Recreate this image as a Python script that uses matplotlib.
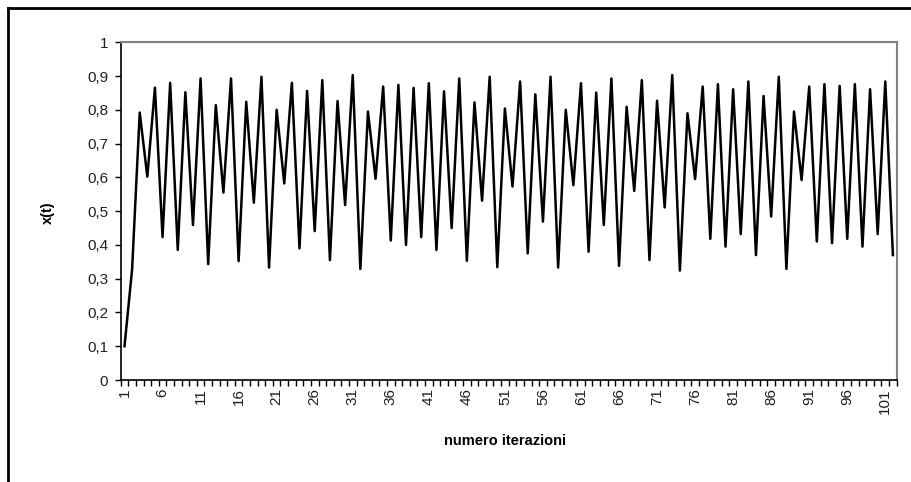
import matplotlib.pyplot as plt
from matplotlib.lines import Line2D

plt.rcParams['font.family'] = ['Liberation Sans', 'DejaVu Sans']

# x(t), iterations 1..102
x_t = [0.100, 0.328, 0.792, 0.602, 0.866, 0.423, 0.880, 0.385, 0.852, 0.459,
       0.893, 0.343, 0.814, 0.555, 0.893, 0.352, 0.824, 0.525, 0.898, 0.333,
       0.800, 0.582, 0.880, 0.390, 0.856, 0.441, 0.888, 0.355, 0.826, 0.518,
       0.903, 0.329, 0.795, 0.596, 0.869, 0.413, 0.874, 0.400, 0.865, 0.423,
       0.879, 0.385, 0.855, 0.450, 0.893, 0.353, 0.822, 0.531, 0.898, 0.334,
       0.804, 0.573, 0.884, 0.375, 0.846, 0.469, 0.898, 0.333, 0.800, 0.577,
       0.879, 0.380, 0.851, 0.459, 0.893, 0.338, 0.809, 0.560, 0.888, 0.355,
       0.827, 0.511, 0.903, 0.324, 0.790, 0.595, 0.869, 0.418, 0.876, 0.395,
       0.861, 0.432, 0.884, 0.370, 0.841, 0.484, 0.898, 0.329, 0.795, 0.592,
       0.869, 0.410, 0.876, 0.405, 0.871, 0.418, 0.876, 0.395, 0.861, 0.432,
       0.884, 0.370]
iterations = list(range(1, len(x_t) + 1))
y_ticks = [0, 0.1, 0.2, 0.3, 0.4, 0.5, 0.6, 0.7, 0.8, 0.9, 1]
y_labels = ['0', '0,1', '0,2', '0,3', '0,4', '0,5', '0,6', '0,7', '0,8', '0,9', '1']
x_labels = iterations[::5]

W, H = 911, 482
fig = plt.figure(figsize=(W / 100, H / 100), dpi=100)
ax = fig.add_axes([120.7 / W, 1 - 380 / H, (896.7 - 120.7) / W, (380 - 42.3) / H])

ax.plot(iterations, x_t, color='black', lw=1.8)

n = len(x_t)
ax.set_xlim(0.5, n + 0.5)
ax.set_ylim(0, 1)
ax.set_yticks(y_ticks)
ax.set_yticklabels(y_labels, fontsize=11, color='#202020')
ax.set_xticks(x_labels)
ax.set_xticklabels([str(v) for v in x_labels], rotation=90, fontsize=11, color='#202020')
ax.tick_params(axis='x', length=0, pad=6)
ax.tick_params(axis='y', length=4, width=1, direction='out', pad=5)
ax.set_xticks([i + 0.5 for i in range(0, n + 1)], minor=True)
ax.tick_params(axis='x', which='minor', length=4, width=1, direction='out')

for s in ['top', 'right']:
    ax.spines[s].set_color('#808080')
    ax.spines[s].set_linewidth(1.5)
for s in ['left', 'bottom']:
    ax.spines[s].set_color('black')
    ax.spines[s].set_linewidth(1.2)

fig.text(505 / W, 1 - 441 / H, 'numero iterazioni', fontsize=10.5, fontweight='bold',
         ha='center', va='center')
fig.text(48 / W, 1 - 213 / H, 'x(t)', fontsize=10.5, fontweight='bold',
         rotation=90, ha='center', va='center')

# outer chart frame
fig.add_artist(Line2D([7.5 / W, 7.5 / W], [0, 1 - 8 / H], color='black', lw=2))
fig.add_artist(Line2D([7.5 / W, 1], [1 - 8 / H, 1 - 8 / H], color='black', lw=2))

fig.savefig('out.png', dpi=100)
